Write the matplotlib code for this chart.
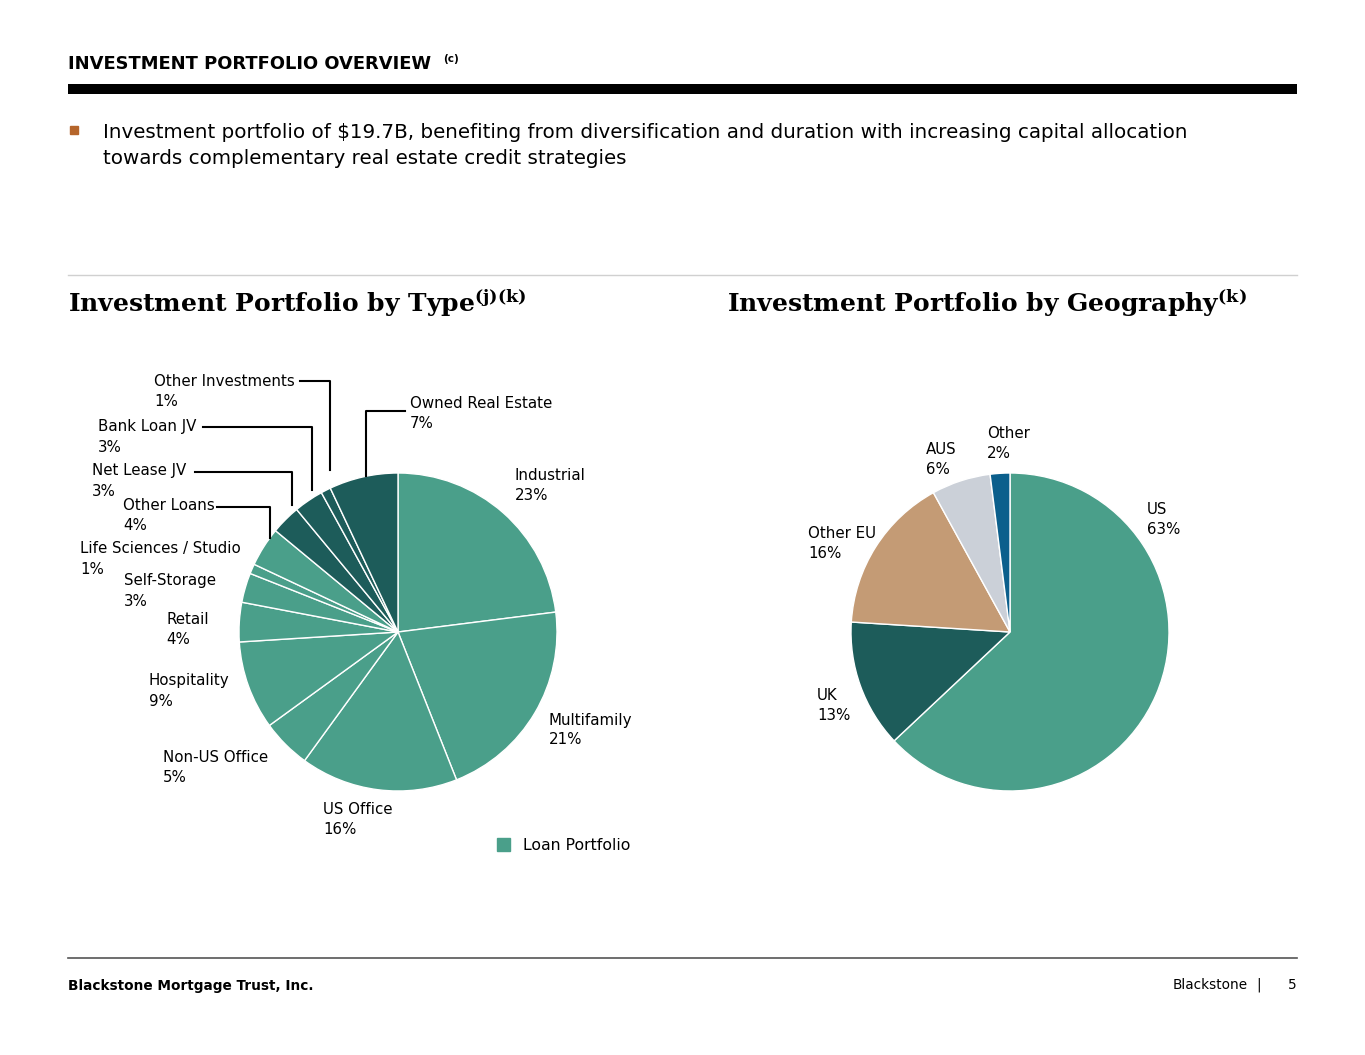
import matplotlib
matplotlib.use("Agg")
import matplotlib.pyplot as plt

plt.rcParams["mathtext.fontset"] = "dejavuserif"

W, H = 1365, 1055

type_labels = ["Industrial", "Multifamily", "US Office", "Non-US Office", "Hospitality",
               "Retail", "Self-Storage", "Life Sciences / Studio", "Other Loans",
               "Net Lease JV", "Bank Loan JV", "Other Investments", "Owned Real Estate"]
type_values = [23, 21, 16, 5, 9, 4, 3, 1, 4, 3, 3, 1, 7]
type_is_loan = [True] * 9 + [False] * 4

geo_labels = ["US", "UK", "Other EU", "AUS", "Other"]
geo_values = [63, 13, 16, 6, 2]

TEAL = "#4a9f8a"
DARK = "#1d5c5a"
geo_colors = [TEAL, DARK, "#c49b75", "#cbd0d8", "#0b5f8c"]

fig = plt.figure(figsize=(W / 100, H / 100), dpi=100)
ax = fig.add_axes([0, 0, 1, 1])


def Y(y):
    return H - y


FONT = "DejaVu Sans"


def txt(x, y, s, size=10.8, **kw):
    ax.text(x, Y(y), s, fontsize=size, family=FONT, **kw)


# header
txt(68, 64, "INVESTMENT PORTFOLIO OVERVIEW", size=12.9, weight="bold", va="center")
txt(443, 59, "(c)", size=7.5, weight="bold", va="center")
ax.fill_between([68, 1297], Y(94), Y(84), color="black", lw=0)
ax.add_patch(plt.Rectangle((70, Y(134)), 8, 8, color="#b5652b"))
txt(103, 132, "Investment portfolio of $19.7B, benefiting from diversification and duration with increasing capital allocation",
    size=14.3, va="center")
txt(103, 159, "towards complementary real estate credit strategies", size=14.3, va="center")
ax.plot([68, 1297], [Y(275), Y(275)], color="#d0d0d0", lw=1)

ax.text(68, Y(303), r"Investment Portfolio by Type$^{\mathbf{(j)(k)}}$", fontsize=18,
        family="DejaVu Serif", weight="bold", va="center")
ax.text(727, Y(303), r"Investment Portfolio by Geography$^{\mathbf{(k)}}$", fontsize=18,
        family="DejaVu Serif", weight="bold", va="center")

# pies
R = 159
ax.pie(type_values, colors=[TEAL if l else DARK for l in type_is_loan],
       startangle=90, counterclock=False, center=(398, Y(632)), radius=R,
       wedgeprops=dict(edgecolor="white", linewidth=1), frame=True)
ax.pie(geo_values, colors=geo_colors, startangle=90, counterclock=False,
       center=(1010, Y(632)), radius=R,
       wedgeprops=dict(edgecolor="white", linewidth=1), frame=True)
ax.set_xlim(0, W)
ax.set_ylim(0, H)
ax.set_aspect("equal")
ax.axis("off")

# type labels: first line centre position
type_pos = [(515, 475), (549, 720), (323, 809), (163, 758), (149, 681), (166, 619),
            (124, 581), (80, 549), (123, 505), (92, 471), (98, 427), (154, 381), (410, 403)]
for lab, v, (x, y) in zip(type_labels, type_values, type_pos):
    txt(x, y, lab, va="center")
    txt(x, y + 20, f"{v}%", va="center")

leaders = [
    [(300, 381), (330, 381), (330, 470)],
    [(203, 427), (312, 427), (312, 490)],
    [(195, 472), (292, 472), (292, 505)],
    [(217, 507), (270, 507), (270, 538)],
    [(405, 411), (366, 411), (366, 476)],
]
for pts in leaders:
    ax.plot([p[0] for p in pts], [Y(p[1]) for p in pts], color="black", lw=1.5)

ax.add_patch(plt.Rectangle((497, Y(851)), 13, 13, color=TEAL))
txt(523, 845, "Loan Portfolio", size=11.3, va="center")

geo_pos = [(1147, 509), (817, 695), (808, 533), (926, 449), (987, 434)]
for lab, v, (x, y) in zip(geo_labels, geo_values, geo_pos):
    txt(x, y, lab, va="center")
    txt(x, y + 20, f"{v}%", va="center")

# footer
ax.plot([68, 1297], [Y(958), Y(958)], color="#555555", lw=1.2)
txt(68, 986, "Blackstone Mortgage Trust, Inc.", size=9.8, weight="bold", va="center")
txt(1173, 985, "Blackstone", size=9.8, va="center")
txt(1256, 985, "|", size=9.8, va="center")
txt(1288, 985, "5", size=9.8, va="center")

fig.savefig("out.png", dpi=100)
